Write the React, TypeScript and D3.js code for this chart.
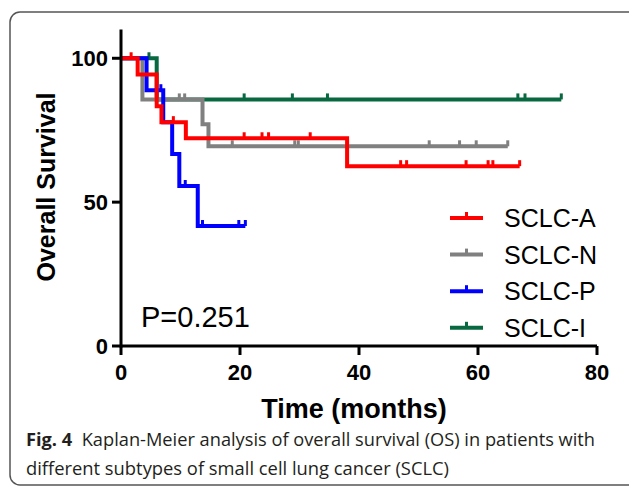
import React from 'react';
import * as d3 from 'd3';

const W = 629;
const H = 488;

const xTicks = [0, 20, 40, 60, 80];
const yTicks = [0, 50, 100];

// SCLC-A
const aTimes = [0, 2.8, 6.0, 6.8, 10.9, 38];
const aSurv = [100, 94.4, 83.3, 77.8, 72.2, 62.5];
const aCensor = [1.7, 8.8, 20.7, 23.7, 24.8, 31.8, 47, 48, 58, 61.7, 62.5, 67];

// SCLC-N
const nTimes = [0, 3.6, 13.7, 14.7];
const nSurv = [100, 85.7, 77.1, 69.4];
const nCensor = [9.8, 10.7, 18.7, 29.2, 29.8, 51.8, 56.9, 59.7, 65];

// SCLC-P
const pTimes = [0, 4.3, 7.1, 8.6, 9.8, 12.9];
const pSurv = [100, 88.9, 77.8, 66.7, 55.6, 41.7];
const pCensor = [6.7, 10.8, 13.7, 19.8, 20.9];

// SCLC-I
const iTimes = [0, 6.0];
const iSurv = [100, 85.7];
const iCensor = [4.7, 20.7, 28.8, 34.7, 66.7, 67.9, 74];

const series = [
  { name: 'SCLC-A', color: '#ff0000', times: aTimes, surv: aSurv, censor: aCensor },
  { name: 'SCLC-N', color: '#808080', times: nTimes, surv: nSurv, censor: nCensor },
  { name: 'SCLC-P', color: '#0000ff', times: pTimes, surv: pSurv, censor: pCensor },
  { name: 'SCLC-I', color: '#08683f', times: iTimes, surv: iSurv, censor: iCensor },
];
// drawing order, bottom to top
const drawOrder = ['SCLC-I', 'SCLC-N', 'SCLC-P', 'SCLC-A'];

const x = d3.scaleLinear().domain([0, 80]).range([121, 597]);
const y = d3.scaleLinear().domain([0, 110]).range([346, 29.5]);

const survAt = (s, t) => s.surv[d3.bisectRight(s.times, t) - 1];

const stepLine = d3
  .line<[number, number]>()
  .curve(d3.curveStepAfter)
  .x((d) => x(d[0]))
  .y((d) => y(d[1]));

const axisFont = '"Liberation Sans", Arial, sans-serif';

export default function App() {
  return (
    <svg
      width={W}
      height={H}
      style={{ position: 'absolute', left: 0, top: 0, background: '#fff' }}
    >
      <rect x={10} y={12} width={650} height={473} rx={10} fill="none" stroke="#555" strokeWidth={1.5} />

      {drawOrder.map((nm) => {
        const s = series.find((d) => d.name === nm);
        const end = d3.max(s.censor);
        const pts = s.times.map((t, i) => [t, s.surv[i]] as [number, number]);
        pts.push([end, s.surv[s.surv.length - 1]]);
        return (
          <g key={nm}>
            <path d={stepLine(pts)} fill="none" stroke={s.color} strokeWidth={4} />
            {s.censor.map((c, i) => (
              <line
                key={i}
                x1={x(c)}
                x2={x(c)}
                y1={y(survAt(s, c))}
                y2={y(survAt(s, c)) - 6}
                stroke={s.color}
                strokeWidth={3}
              />
            ))}
          </g>
        );
      })}

      {/* axes */}
      <line x1={x(0)} x2={x(80)} y1={y(0)} y2={y(0)} stroke="#000" strokeWidth={3} />
      <line x1={x(0)} x2={x(0)} y1={y(0) + 1.5} y2={y(110)} stroke="#000" strokeWidth={3} />
      {xTicks.map((t) => (
        <g key={t}>
          <line x1={x(t)} x2={x(t)} y1={y(0)} y2={y(0) + 9} stroke="#000" strokeWidth={3} />
          <text x={x(t)} y={380} textAnchor="middle" fontFamily={axisFont} fontWeight="bold" fontSize={22}>
            {t}
          </text>
        </g>
      ))}
      {yTicks.map((t) => (
        <g key={t}>
          <line x1={x(0) - 9} x2={x(0)} y1={y(t)} y2={y(t)} stroke="#000" strokeWidth={3} />
          <text x={108} y={y(t) + 8} textAnchor="end" fontFamily={axisFont} fontWeight="bold" fontSize={22}>
            {t}
          </text>
        </g>
      ))}

      <text
        transform="translate(55,187) rotate(-90)"
        textAnchor="middle"
        fontFamily={axisFont}
        fontWeight="bold"
        fontSize={25}
      >
        Overall Survival
      </text>
      <text x={354} y={418} textAnchor="middle" fontFamily={axisFont} fontWeight="bold" fontSize={27}>
        Time (months)
      </text>

      <text x={141} y={327} fontFamily={axisFont} fontSize={29}>
        P=0.251
      </text>

      {/* legend */}
      {series.map((s, i) => {
        const ly = 218 + i * 36.6;
        return (
          <g key={s.name}>
            <line x1={450} x2={483} y1={ly} y2={ly} stroke={s.color} strokeWidth={4} />
            <line x1={466.5} x2={466.5} y1={ly} y2={ly - 6} stroke={s.color} strokeWidth={3} />
            <text x={504} y={ly + 9} fontFamily={axisFont} fontSize={25}>
              {s.name}
            </text>
          </g>
        );
      })}

      {/* caption */}
      <text x={26} y={446} fontFamily='"Open Sans", sans-serif' fontSize={18} fill="#231f20" textLength={569} lengthAdjust="spacingAndGlyphs">
        <tspan fontWeight="bold">Fig. 4</tspan>
        <tspan>{'\u00a0\u00a0Kaplan-Meier analysis of overall survival (OS) in patients with'}</tspan>
      </text>
      <text x={26} y={475} fontFamily='"Open Sans", sans-serif' fontSize={18} fill="#231f20" textLength={423} lengthAdjust="spacingAndGlyphs">
        different subtypes of small cell lung cancer (SCLC)
      </text>
    </svg>
  );
}
